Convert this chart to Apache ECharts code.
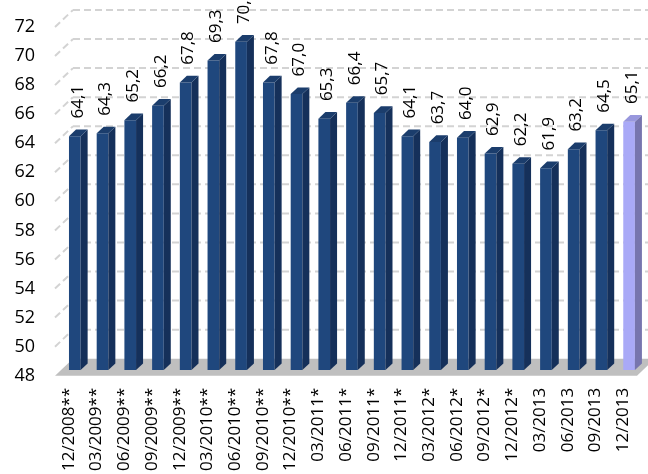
<!DOCTYPE html>
<html>
<head>
<meta charset="utf-8">
<script src="https://cdn.jsdelivr.net/npm/echarts@6/dist/echarts.min.js"></script>
<style>
  html, body { margin: 0; padding: 0; background: #fff; }
  #chart { width: 648px; height: 474px; }
</style>
</head>
<body>
<div id="chart"></div>
<script>
// Quarterly readings; the last quarter is drawn in a lighter colour.
const categories = [
  '12/2008**', '03/2009**', '06/2009**', '09/2009**', '12/2009**',
  '03/2010**', '06/2010**', '09/2010**', '12/2010**',
  '03/2011*', '06/2011*', '09/2011*', '12/2011*',
  '03/2012*', '06/2012*', '09/2012*', '12/2012*',
  '03/2013', '06/2013', '09/2013', '12/2013'
];
const values = [
  64.1, 64.3, 65.2, 66.2, 67.8, 69.3, 70.6, 67.8, 67.0,
  65.3, 66.4, 65.7, 64.1, 63.7, 64.0, 62.9, 62.2,
  61.9, 63.2, 64.5, 65.1
];
const yTicks = [48, 50, 52, 54, 56, 58, 60, 62, 64, 66, 68, 70, 72];

const Y_MIN = 48, Y_MAX = 72, Y_STEP = 2;
const FONT = '"Open Sans", "Liberation Sans", sans-serif';

// pseudo-3D depth of the plot box (screen pixels)
const DEPTH_X = 18, DEPTH_Y = 17;
// bar occupies this slice of the depth
const BAR_FRONT = 0.33, BAR_DEPTH = 0.39;

const palette = {
  normal: { front: '#1f477d', side: '#15305a', top: '#1b3d6c' },
  last:   { front: '#a9a9f7', side: '#7775ae', top: '#9897dd' }
};

const fmt = v => v.toFixed(1).replace('.', ',');

const chart = echarts.init(document.getElementById('chart'), null, { renderer: 'canvas' });

function renderGrid(params, api) {
  const v = api.value(1);
  if (v === Y_MIN) return null;
  const cs = params.coordSys;
  const y = api.coord([0, v])[1];
  const style = { stroke: '#d3d3d3', lineWidth: 2, lineDash: [7, 4], fill: null };
  return {
    type: 'group',
    children: [
      { type: 'line', shape: { x1: cs.x, y1: y, x2: cs.x + DEPTH_X, y2: y - DEPTH_Y }, style },
      { type: 'line', shape: { x1: cs.x + DEPTH_X, y1: y - DEPTH_Y, x2: cs.x + cs.width + DEPTH_X, y2: y - DEPTH_Y }, style }
    ]
  };
}

function renderFloor(params, api) {
  const cs = params.coordSys;
  const y = api.coord([0, Y_MIN])[1];
  return {
    type: 'polygon',
    shape: { points: [
      [cs.x, y], [cs.x + cs.width, y],
      [cs.x + cs.width + DEPTH_X, y - DEPTH_Y], [cs.x + DEPTH_X, y - DEPTH_Y]
    ] },
    style: { fill: '#bfbfbf' }
  };
}

function renderBar(params, api) {
  const idx = api.value(0);
  const v = api.value(1);
  const top = api.coord([idx, v]);
  const base = api.coord([idx, Y_MIN]);
  const band = api.size([1, 0])[0];
  const w = band * 0.42;
  const fx = BAR_FRONT * DEPTH_X, fy = BAR_FRONT * DEPTH_Y;
  const dx = BAR_DEPTH * DEPTH_X, dy = BAR_DEPTH * DEPTH_Y;
  const x0 = top[0] + fx - w / 2;
  const x1 = x0 + w;
  const yt = top[1] - fy;
  const yb = base[1] - fy;
  const c = params.dataIndex === values.length - 1 ? palette.last : palette.normal;
  return {
    type: 'group',
    children: [
      { type: 'rect', shape: { x: x0, y: yt, width: w, height: yb - yt }, style: { fill: c.front } },
      { type: 'polygon', shape: { points: [[x1, yt], [x1 + dx, yt - dy], [x1 + dx, yb - dy], [x1, yb]] }, style: { fill: c.side } },
      { type: 'polygon', shape: { points: [[x0, yt], [x1, yt], [x1 + dx, yt - dy], [x0 + dx, yt - dy]] }, style: { fill: c.top } },
      {
        type: 'text',
        x: x0 + w / 2 + 3,
        y: yt - dy - 11,
        rotation: Math.PI / 2,
        style: {
          text: fmt(v), fill: '#000', font: '17px ' + FONT,
          align: 'left', verticalAlign: 'middle'
        }
      }
    ]
  };
}

chart.setOption({
  animation: false,
  grid: { left: 55, right: 11, top: 27, bottom: 96 },
  xAxis: {
    type: 'category',
    data: categories,
    axisLine: { show: false },
    axisTick: { show: false },
    axisLabel: { rotate: 90, margin: 12, color: '#000', fontFamily: FONT, fontSize: 17, interval: 0 }
  },
  yAxis: {
    type: 'value',
    min: Y_MIN, max: Y_MAX, interval: Y_STEP,
    axisLine: { show: false },
    axisTick: { show: false },
    splitLine: { show: false },
    axisLabel: { margin: 20, color: '#000', fontFamily: FONT, fontSize: 18 }
  },
  series: [
    { type: 'custom', z: 1, silent: true, renderItem: renderGrid, data: yTicks.map(t => [0, t]) },
    { type: 'custom', z: 2, silent: true, renderItem: renderFloor, data: [[0, Y_MIN]] },
    { type: 'custom', z: 3, renderItem: renderBar, data: values.map((v, i) => [i, v]) }
  ]
});
</script>
</body>
</html>
